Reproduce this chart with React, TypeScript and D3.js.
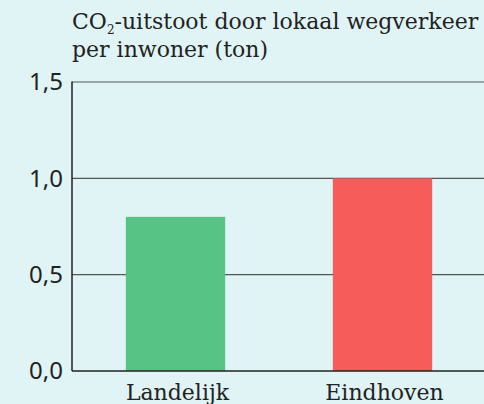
import React from 'react'
import * as d3 from 'd3'

const categories = ['Landelijk', 'Eindhoven']
const values = [0.8, 1.0]
const barColors = ['#57c485', '#f65d5a']
const yTicks = [0, 0.5, 1.0, 1.5]

const width = 484
const height = 404
const margin = { top: 82, right: 0, bottom: 33, left: 72 }
const serif = '"DejaVu Serif", serif'
const sans = '"Noto Sans", sans-serif'

export default function App() {
  const innerHeight = height - margin.top - margin.bottom

  const x = d3.scaleBand<string>()
    .domain(categories)
    .range([margin.left, 486])
    .paddingInner(0.52)
    .paddingOuter(0.26)

  const y = d3.scaleLinear()
    .domain([0, 1.5])
    .range([margin.top + innerHeight, margin.top])

  const fmt = (d: number) => d3.format('.1f')(d).replace('.', ',')

  return (
    <svg
      width={width}
      height={height}
      style={{ position: 'absolute', left: 0, top: 0, background: '#e0f4f6' }}
    >
      {/* title */}
      <text x={72} y={29} fontFamily={serif} fontSize={22} fill="#222">
        CO<tspan fontSize={12} dy={5}>2</tspan>
        <tspan dy={-5}>-uitstoot door lokaal wegverkeer</tspan>
      </text>
      <text x={72} y={57} fontFamily={serif} fontSize={22} fill="#222">
        per inwoner (ton)
      </text>

      {/* grid */}
      {yTicks.filter(t => t > 0).map(t => (
        <line
          key={t}
          x1={margin.left}
          x2={width}
          y1={y(t)}
          y2={y(t)}
          stroke="#555"
          strokeWidth={1.2}
        />
      ))}

      {/* bars */}
      {categories.map((c, i) => (
        <rect
          key={c}
          x={x(c)}
          y={y(values[i])}
          width={x.bandwidth()}
          height={y(0) - y(values[i])}
          fill={barColors[i]}
        />
      ))}

      {/* axes */}
      <line x1={margin.left} x2={margin.left} y1={y(1.5) - 0.5} y2={y(0)} stroke="#222" strokeWidth={1.5} />
      <line x1={margin.left} x2={width} y1={y(0)} y2={y(0)} stroke="#222" strokeWidth={1.5} />

      {yTicks.map(t => (
        <text
          key={t}
          x={63}
          y={y(t)}
          dy="0.35em"
          textAnchor="end"
          fontFamily={sans}
          fontSize={24}
          fill="#222"
        >
          {fmt(t)}
        </text>
      ))}

      {categories.map(c => (
        <text
          key={c}
          x={(x(c) ?? 0) + x.bandwidth() / 2 + 2}
          y={400}
          textAnchor="middle"
          fontFamily={serif}
          fontSize={22}
          fill="#222"
        >
          {c}
        </text>
      ))}
    </svg>
  )
}
